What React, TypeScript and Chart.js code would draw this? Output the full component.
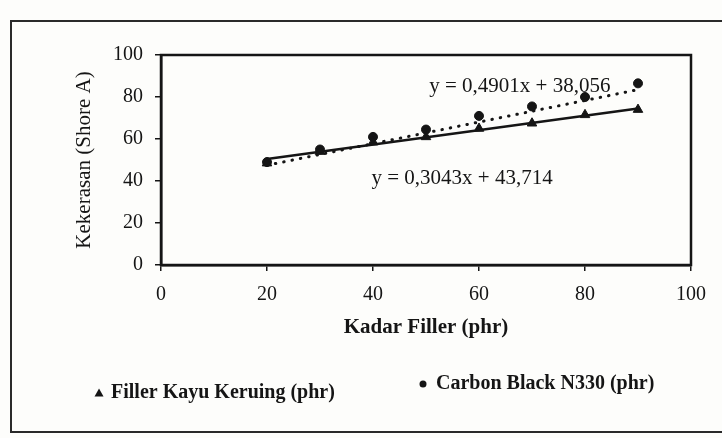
import React, { useEffect, useRef } from "react";
import { Chart, registerables } from "chart.js";

Chart.register(...registerables);

// ---- data ----
const fillerLevels = [20, 30, 40, 50, 60, 70, 80, 90];
const kayuKeruing = [48.5, 54, 58.5, 61, 65, 67.5, 71.5, 74];
const carbonBlack = [49, 55, 61, 64.5, 71, 75.5, 80, 86.5];
const trendKayuX = [20, 90];
const trendKayuY = [50.5, 74.5];
const trendCarbonX = [20, 90];
const trendCarbonY = [47.5, 83.5];
const xTicks = [0, 20, 40, 60, 80, 100];
const yTicks = [0, 20, 40, 60, 80, 100];
const equationTexts = ["y = 0,4901x + 38,056", "y = 0,3043x + 43,714"];
const equationAnchorsX = [67.7, 56.8];
const equationAnchorsY = [85.2, 41.4];
const legendLabels = ["Filler Kayu Keruing (phr)", "Carbon Black N330 (phr)"];
const xTitle = "Kadar Filler (phr)";
const yTitle = "Kekerasan (Shore A)";

const FONT = "'Liberation Serif', 'Times New Roman', serif";
const INK = "#151515";

const toPoints = (xs: number[], ys: number[]) => xs.map((x, i) => ({ x, y: ys[i] }));

const decorPlugin = {
  id: "decor",
  beforeDraw(chart: any) {
    const ctx = chart.ctx;
    ctx.save();
    ctx.fillStyle = "#fdfdfb";
    ctx.fillRect(0, 0, chart.width, chart.height);
    // outer frame (right edge runs off the picture)
    ctx.strokeStyle = "#2a2a2a";
    ctx.lineWidth = 2;
    ctx.beginPath();
    ctx.moveTo(740, 21);
    ctx.lineTo(11, 21);
    ctx.lineTo(11, 432);
    ctx.lineTo(740, 432);
    ctx.stroke();
    ctx.restore();
  },
  afterDraw(chart: any) {
    const ctx = chart.ctx;
    const { left, right, top, bottom } = chart.chartArea;
    const xs = chart.scales.x;
    const ys = chart.scales.y;
    ctx.save();
    ctx.strokeStyle = INK;
    ctx.lineWidth = 2.5;
    ctx.strokeRect(left, top, right - left, bottom - top);
    // equations
    ctx.fillStyle = INK;
    ctx.font = `21px ${FONT}`;
    ctx.textAlign = "center";
    ctx.textBaseline = "middle";
    equationTexts.forEach((t, i) => {
      ctx.fillText(t, xs.getPixelForValue(equationAnchorsX[i]), ys.getPixelForValue(equationAnchorsY[i]));
    });
    // legend
    ctx.textAlign = "left";
    ctx.font = `bold 20px ${FONT}`;
    const tx = 99, ty = 393;
    ctx.beginPath();
    ctx.moveTo(tx, ty - 4.5);
    ctx.lineTo(tx + 4.5, ty + 3.5);
    ctx.lineTo(tx - 4.5, ty + 3.5);
    ctx.closePath();
    ctx.fill();
    ctx.fillText(legendLabels[0], 111, ty);
    const cx = 423, cy = 384;
    ctx.beginPath();
    ctx.arc(cx, cy, 3.5, 0, Math.PI * 2);
    ctx.fill();
    ctx.fillText(legendLabels[1], 436, cy);
    ctx.restore();
  },
};

export default function App() {
  const ref = useRef<HTMLCanvasElement>(null);
  useEffect(() => {
    if (!ref.current) return;
    const chart = new Chart(ref.current, {
      type: "scatter",
      data: {
        datasets: [
          {
            label: "trend kayu",
            data: toPoints(trendKayuX, trendKayuY),
            showLine: true,
            borderColor: INK,
            borderWidth: 2.5,
            pointRadius: 0,
            order: 3,
          },
          {
            label: "trend carbon",
            data: toPoints(trendCarbonX, trendCarbonY),
            showLine: true,
            borderColor: INK,
            borderWidth: 3,
            borderDash: [0.5, 8],
            borderCapStyle: "round",
            pointRadius: 0,
            order: 4,
          },
          {
            label: legendLabels[0],
            data: toPoints(fillerLevels, kayuKeruing),
            pointStyle: "triangle",
            pointRadius: 5.5,
            backgroundColor: INK,
            borderColor: INK,
            showLine: false,
            order: 1,
          },
          {
            label: legendLabels[1],
            data: toPoints(fillerLevels, carbonBlack),
            pointStyle: "circle",
            pointRadius: 4.5,
            backgroundColor: INK,
            borderColor: INK,
            showLine: false,
            order: 2,
          },
        ],
      },
      options: {
        responsive: false,
        animation: false,
        devicePixelRatio: 1,
        layout: { padding: { left: 61, right: 31, top: 55, bottom: 94 } },
        plugins: { legend: { display: false }, tooltip: { enabled: false } },
        scales: {
          x: {
            type: "linear",
            min: 0,
            max: 100,
            afterBuildTicks: (s: any) => {
              s.ticks = xTicks.map((v) => ({ value: v }));
            },
            afterFit: (s: any) => {
              s.height = 79;
            },
            ticks: { color: INK, font: { family: FONT, size: 20 }, padding: 12, maxRotation: 0 },
            grid: { drawOnChartArea: false, tickLength: 6, color: INK, lineWidth: 1.5 },
            border: { color: INK, width: 2.5 },
            title: { display: true, text: xTitle, color: INK, font: { family: FONT, size: 21, weight: "bold" }, padding: { top: 0, bottom: 4 } },
          },
          y: {
            type: "linear",
            min: 0,
            max: 100,
            afterBuildTicks: (s: any) => {
              s.ticks = yTicks.map((v) => ({ value: v }));
            },
            afterFit: (s: any) => {
              s.width = 100;
            },
            ticks: { color: INK, font: { family: FONT, size: 20 }, padding: 12 },
            grid: { drawOnChartArea: false, tickLength: 6, color: INK, lineWidth: 1.5 },
            border: { color: INK, width: 2.5 },
            title: { display: true, text: yTitle, color: INK, font: { family: FONT, size: 21 }, padding: { top: 11, bottom: 0 } },
          },
        },
      },
      plugins: [decorPlugin],
    });
    return () => chart.destroy();
  }, []);
  return (
    <div style={{ position: "absolute", left: 0, top: 0, width: 722, height: 438 }}>
      <canvas ref={ref} width={722} height={438} style={{ display: "block" }} />
    </div>
  );
}
